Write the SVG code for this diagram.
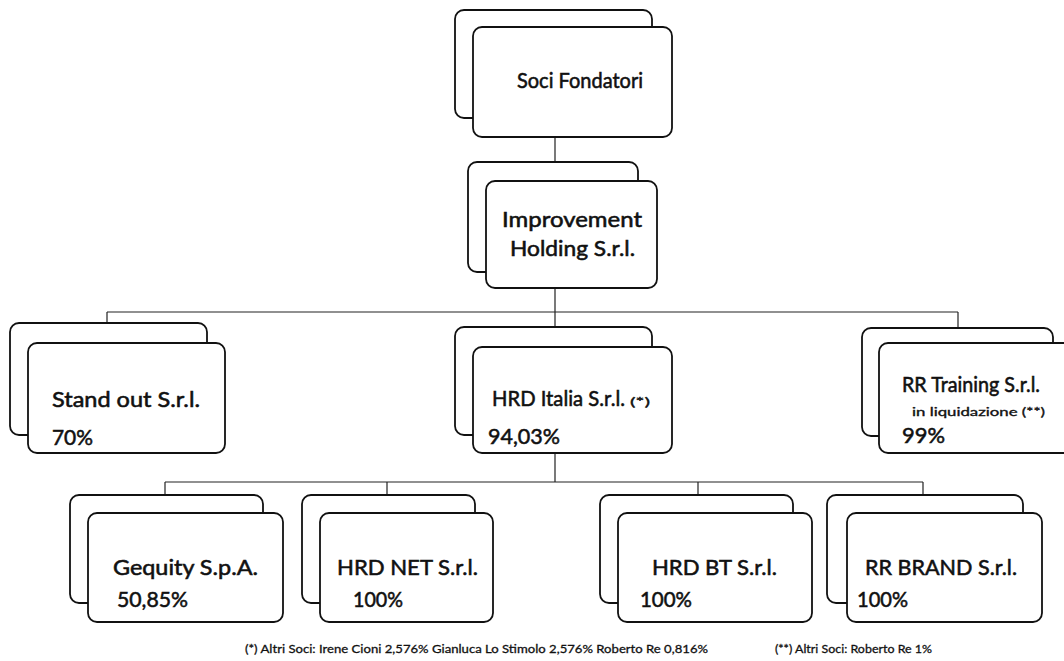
<svg xmlns="http://www.w3.org/2000/svg" width="1064" height="661" viewBox="0 0 1064 661">
<style>
.bk{fill:#fff;stroke:#111;stroke-width:1.8}
.fr{fill:#fff;stroke:#111;stroke-width:1.8}
.t{font-family:Lato,"Liberation Sans",sans-serif;font-size:21px;fill:#111;stroke:#111;stroke-width:0.55}
.s{font-family:Lato,"Liberation Sans",sans-serif;font-size:12px;fill:#111;stroke:#111;stroke-width:0.35}
.fn{font-family:Lato,"Liberation Sans",sans-serif;font-size:12px;fill:#111;stroke:#111;stroke-width:0.3}
.c{stroke:#222;stroke-width:1.2;fill:none}
</style>
<rect width="1064" height="661" fill="#fff"/>
<g id="connectors">
<path class="c" d="M555 137V162M555 288V327M107 312H958M107 312V323M958 312V328M555 453V482M165 482H923M165 482V495M387 482V495M698 482V495M923 482V495"/>
</g>
<g id="soci">
<rect class="bk" x="455" y="10" width="197" height="108" rx="9"/>
<rect class="fr" x="473" y="27" width="199" height="110" rx="9"/>
<text class="t" x="517" y="88" textLength="126" lengthAdjust="spacingAndGlyphs">Soci Fondatori</text>
</g>
<g id="improvement">
<rect class="bk" x="468" y="162" width="170" height="110" rx="9"/>
<rect class="fr" x="486" y="181" width="171" height="107" rx="9"/>
<text class="t" x="502" y="227" textLength="140" lengthAdjust="spacingAndGlyphs">Improvement</text>
<text class="t" x="510" y="256" textLength="125" lengthAdjust="spacingAndGlyphs">Holding S.r.l.</text>
</g>
<g id="standout">
<rect class="bk" x="10" y="323" width="197" height="112" rx="9"/>
<rect class="fr" x="28" y="343" width="197" height="110" rx="9"/>
<text class="t" x="52" y="407" textLength="148" lengthAdjust="spacingAndGlyphs">Stand out S.r.l.</text>
<text class="t" x="52" y="445" textLength="41" lengthAdjust="spacingAndGlyphs">70%</text>
</g>
<g id="hrditalia">
<rect class="bk" x="455" y="327" width="197" height="108" rx="9"/>
<rect class="fr" x="473" y="347" width="199" height="106" rx="9"/>
<text class="t" x="492" y="406" textLength="133" lengthAdjust="spacingAndGlyphs">HRD Italia S.r.l.</text>
<text class="s" x="630" y="406" font-size="10" textLength="20" lengthAdjust="spacingAndGlyphs">(*)</text>
<text class="t" x="488" y="444" textLength="72" lengthAdjust="spacingAndGlyphs">94,03%</text>
</g>
<g id="rrtraining">
<rect class="bk" x="862" y="328" width="191" height="108" rx="9"/>
<rect class="fr" x="879" y="343" width="195" height="110" rx="9"/>
<text class="t" x="902" y="392" textLength="138" lengthAdjust="spacingAndGlyphs">RR Training S.r.l.</text>
<text class="s" x="912" y="416" textLength="133" lengthAdjust="spacingAndGlyphs">in liquidazione (**)</text>
<text class="t" x="902" y="443" textLength="43" lengthAdjust="spacingAndGlyphs">99%</text>
</g>
<g id="gequity">
<rect class="bk" x="70" y="495" width="193" height="108" rx="9"/>
<rect class="fr" x="88" y="513" width="195" height="109" rx="9"/>
<text class="t" x="113" y="575" textLength="145" lengthAdjust="spacingAndGlyphs">Gequity S.p.A.</text>
<text class="t" x="117" y="607" textLength="71" lengthAdjust="spacingAndGlyphs">50,85%</text>
</g>
<g id="hrdnet">
<rect class="bk" x="302" y="495" width="173" height="108" rx="9"/>
<rect class="fr" x="320" y="513" width="173" height="109" rx="9"/>
<text class="t" x="337" y="575" textLength="141" lengthAdjust="spacingAndGlyphs">HRD NET S.r.l.</text>
<text class="t" x="353" y="607" textLength="50" lengthAdjust="spacingAndGlyphs">100%</text>
</g>
<g id="hrdbt">
<rect class="bk" x="600" y="495" width="193" height="108" rx="9"/>
<rect class="fr" x="618" y="513" width="194" height="109" rx="9"/>
<text class="t" x="652" y="575" textLength="125" lengthAdjust="spacingAndGlyphs">HRD BT S.r.l.</text>
<text class="t" x="640" y="607" textLength="52" lengthAdjust="spacingAndGlyphs">100%</text>
</g>
<g id="rrbrand">
<rect class="bk" x="827" y="495" width="196" height="108" rx="9"/>
<rect class="fr" x="847" y="513" width="195" height="109" rx="9"/>
<text class="t" x="865" y="575" textLength="152" lengthAdjust="spacingAndGlyphs">RR BRAND S.r.l.</text>
<text class="t" x="857" y="607" textLength="51" lengthAdjust="spacingAndGlyphs">100%</text>
</g>
<g id="footnotes">
<text class="fn" x="245" y="653" textLength="463" lengthAdjust="spacingAndGlyphs">(*) Altri Soci: Irene Cioni 2,576% Gianluca Lo Stimolo 2,576% Roberto Re 0,816%</text>
<text class="fn" x="775" y="653" textLength="157" lengthAdjust="spacingAndGlyphs">(**) Altri Soci: Roberto Re 1%</text>
</g>
</svg>
